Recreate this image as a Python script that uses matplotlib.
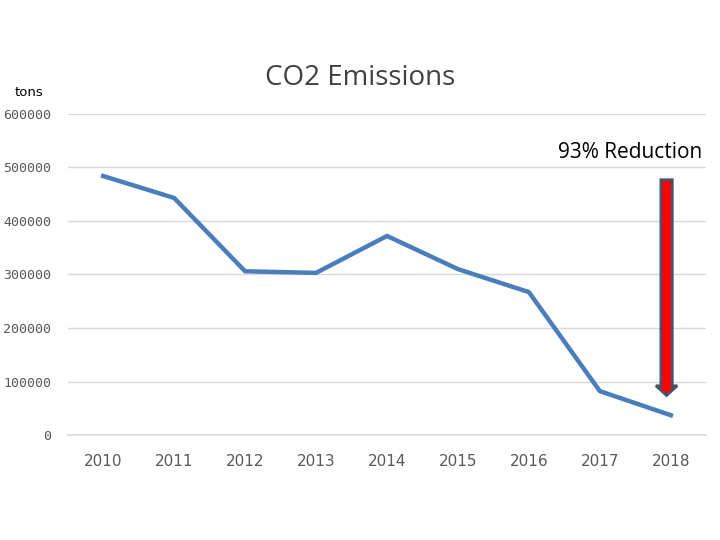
import matplotlib
matplotlib.use('Agg')
import matplotlib.pyplot as plt
from matplotlib.patches import FancyArrow

years = ['2010', '2011', '2012', '2013', '2014', '2015', '2016', '2017', '2018']
emissions = [484000, 443000, 306000, 303000, 372000, 310000, 267000, 82000, 37000]
yticks = [0, 100000, 200000, 300000, 400000, 500000, 600000]

fig = plt.figure(figsize=(7.2, 5.4), dpi=100)
ax = fig.add_axes([0.094, 0.1944, 0.887, 0.5946])

x = list(range(len(years)))
ax.plot(x, emissions, color='#4A7EBB', lw=3.2, solid_joinstyle='round', zorder=3)

ax.set_xlim(-0.5, len(years) - 0.5)
ax.set_ylim(0, 600000)
ax.set_xticks(x)
ax.set_xticklabels(years, fontsize=11, color='#595959')
ax.set_yticks(yticks)
ax.set_yticklabels([str(v) for v in yticks], fontsize=9.5, color='#595959',
                   family='DejaVu Sans Mono')
ax.tick_params(length=0, axis='x', pad=14)
ax.tick_params(length=0, axis='y', pad=12)
ax.grid(True, axis='y', color='#D9D9D9', lw=1)
ax.axhline(0, color='#D9D9D9', lw=1.2, clip_on=False, zorder=1)
ax.set_axisbelow(True)
for s in ax.spines.values():
    s.set_visible(False)

# reduction arrow (vertical, so width is in x units and length in y units)
arr = FancyArrow(7.94, 477000, 0, -403000, width=0.16, head_width=0.3,
                 head_length=18000, length_includes_head=True,
                 facecolor='#FF0000', edgecolor='#44546A', lw=2, zorder=4)
ax.add_patch(arr)
ax.text(8.44, 528000, '93% Reduction', ha='right', va='center', fontsize=15,
        color='black', family='Open Sans')

fig.text(0.5, 0.855, 'CO2 Emissions', ha='center', va='center', fontsize=20,
         color='#404040', family='Open Sans')
fig.text(0.04, 0.829, 'tons', ha='center', va='center', fontsize=9.5,
         color='black')

fig.savefig('out.png', dpi=100)
